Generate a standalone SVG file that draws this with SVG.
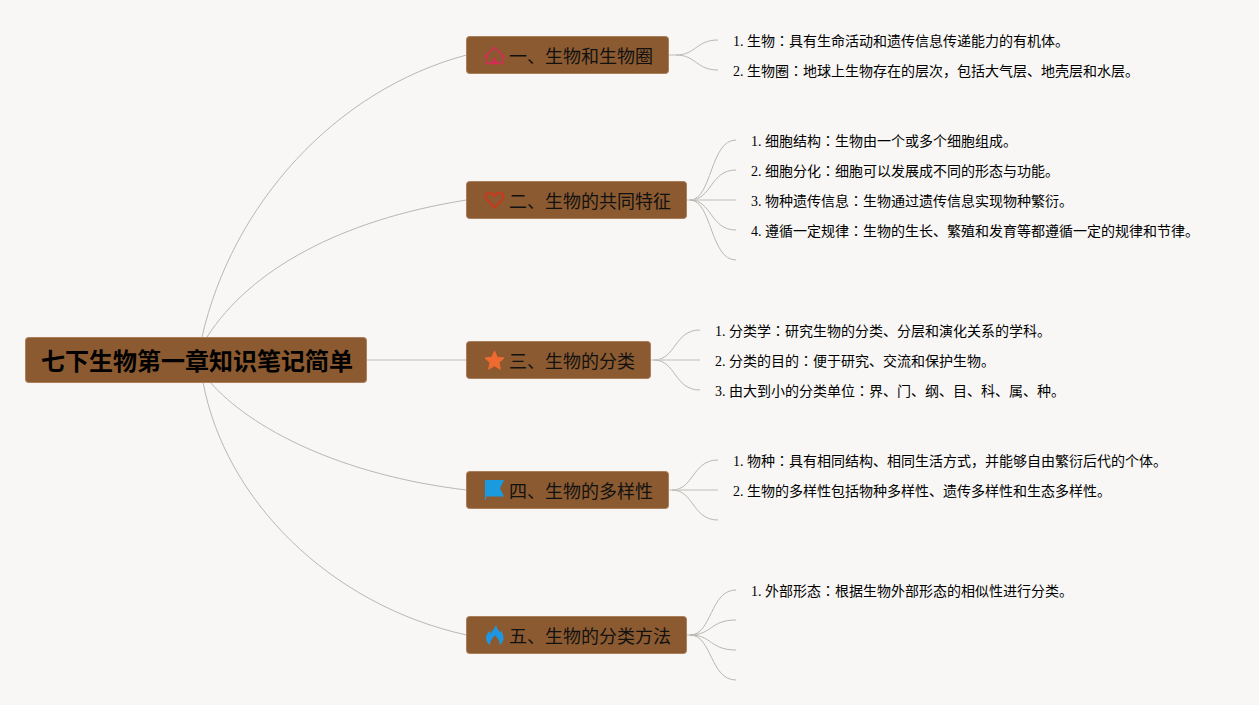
<svg xmlns="http://www.w3.org/2000/svg" width="1259" height="705" viewBox="0 0 1259 705">
<style>
.box{fill:#8b5a30;stroke:#a9805a;stroke-width:1}
.root{font:bold 24px "Liberation Sans","Noto Sans CJK SC",sans-serif;fill:#000}
.title{font:18px "Liberation Sans","Noto Sans CJK SC",sans-serif;fill:#111}
.item{font:14px "Liberation Serif","Noto Sans CJK SC",serif;fill:#000}
.c{font-family:"Noto Sans CJK TC",sans-serif}
.l{fill:none;stroke:#b8b7b3;stroke-width:1}
.s{stroke:#d2d1cd;stroke-width:1.5}
</style>
<rect width="1259" height="705" fill="#f8f7f5"/>
<g id="connectors">
<path class="l" d="M202 337C232 205 335 90 466.500 55"/>
<path class="l" d="M207 337C250 270 340 220 466.500 200"/>
<path class="l s" d="M367 360H466.500"/>
<path class="l" d="M210 382C250 428 340 475 466.500 490"/>
<path class="l" d="M203 382C225 500 330 605 466.500 635"/>
<path class="l s" d="M668.500 55H676"/>
<path class="l" d="M676 55C696 55 696 40 718 40"/>
<path class="l" d="M676 55C696 55 696 70 718 70"/>
<path class="l" d="M690 200C712 200 710 140 736 140"/>
<path class="l" d="M690 200C712 200 710 170 736 170"/>
<path class="l s" d="M686.500 200H736"/>
<path class="l" d="M690 200C712 200 710 230 736 230"/>
<path class="l" d="M690 200C712 200 710 260 736 260"/>
<path class="l" d="M654 360C676 360 674 330 700 330"/>
<path class="l s" d="M650.500 360H700"/>
<path class="l" d="M654 360C676 360 674 390 700 390"/>
<path class="l" d="M672 490C694 490 692 460 718 460"/>
<path class="l s" d="M668.500 490H718"/>
<path class="l" d="M672 490C694 490 692 520 718 520"/>
<path class="l s" d="M686.500 635H694"/>
<path class="l" d="M690 635C712 635 710 590 736 590"/>
<path class="l" d="M690 635C712 635 710 620 736 620"/>
<path class="l" d="M690 635C712 635 710 650 736 650"/>
<path class="l" d="M690 635C712 635 710 680 736 680"/>
</g>
<g id="root">
<rect class="box" x="25.500" y="337.500" width="341" height="45" rx="3"/>
<text class="root" x="41" y="370">七下生物第一章知识笔记简单</text>
</g>
<g id="n1">
<rect class="box" x="466.500" y="36.500" width="202" height="37" rx="3"/>
<path d="M494.500 47.500L486.500 55V63.500H502.500V55Z M484.500 57L494.500 47.500L504.500 57" fill="none" stroke="#d62a58" stroke-width="1.600"/>
<path d="M494.500 56.500L491 63.500H498Z" fill="#d62a58"/>
<text class="title" x="509" y="62.500">一、生物和生物圈</text>
</g>
<g id="n2">
<rect class="box" x="466.500" y="181.500" width="220" height="37" rx="3"/>
<path d="M494.500 207.500L487 200C484 196.500 486 193 489.500 193C492 193 493.500 194.500 494.500 196C495.500 194.500 497 193 499.500 193C503 193 505 196.500 502 200Z" fill="none" stroke="#c63a1e" stroke-width="2"/>
<text class="title" x="509" y="207.500">二、生物的共同特征</text>
</g>
<g id="n3">
<rect class="box" x="466.500" y="341.500" width="184" height="37" rx="3"/>
<path d="M494.500 351L497.200 357.200L504 358L499 362.500L500.400 369.300L494.500 365.800L488.600 369.300L490 362.500L485 358L491.800 357.200Z" fill="#ef6a30" stroke="#ef6a30" stroke-linejoin="round"/>
<text class="title" x="509" y="367.500">三、生物的分类</text>
</g>
<g id="n4">
<rect class="box" x="466.500" y="471.500" width="202" height="37" rx="3"/>
<path d="M485 480H504L500 488.500L504 496.500H486V500H485Z" fill="#1a9be0"/>
<text class="title" x="509" y="497.500">四、生物的多样性</text>
</g>
<g id="n5">
<rect class="box" x="466.500" y="616.500" width="220" height="37" rx="3"/>
<path d="M496 624.500C496.500 628 498.500 630 500 632.500L501 630.500C502.800 633 503.500 635.500 503.500 638C503.500 641 502 643.500 499.500 645C500.500 641.500 498 638.500 495 635.500C492.500 638 489.500 641.500 490 645C487.500 643.500 486 641 486 638C486 635 488 632.500 489.500 631L490.500 633.500C492 630.500 495.500 628 496 624.500Z" fill="#2196e0"/>
<text class="title" x="509" y="642.500">五、生物的分类方法</text>
</g>
<g id="items">
<text class="item" x="733" y="46">1. 生物<tspan class="c">：</tspan>具有生命活动和遗传信息传递能力的有机体。</text>
<text class="item" x="733" y="76">2. 生物圈<tspan class="c">：</tspan>地球上生物存在的层次，包括大气层、地壳层和水层。</text>
<text class="item" x="751" y="146">1. 细胞结构<tspan class="c">：</tspan>生物由一个或多个细胞组成。</text>
<text class="item" x="751" y="176">2. 细胞分化<tspan class="c">：</tspan>细胞可以发展成不同的形态与功能。</text>
<text class="item" x="751" y="206">3. 物种遗传信息<tspan class="c">：</tspan>生物通过遗传信息实现物种繁衍。</text>
<text class="item" x="751" y="236">4. 遵循一定规律<tspan class="c">：</tspan>生物的生长、繁殖和发育等都遵循一定的规律和节律。</text>
<text class="item" x="715" y="336">1. 分类学<tspan class="c">：</tspan>研究生物的分类、分层和演化关系的学科。</text>
<text class="item" x="715" y="366">2. 分类的目的<tspan class="c">：</tspan>便于研究、交流和保护生物。</text>
<text class="item" x="715" y="396">3. 由大到小的分类单位<tspan class="c">：</tspan>界、门、纲、目、科、属、种。</text>
<text class="item" x="733" y="466">1. 物种<tspan class="c">：</tspan>具有相同结构、相同生活方式，并能够自由繁衍后代的个体。</text>
<text class="item" x="733" y="496">2. 生物的多样性包括物种多样性、遗传多样性和生态多样性。</text>
<text class="item" x="751" y="596">1. 外部形态<tspan class="c">：</tspan>根据生物外部形态的相似性进行分类。</text>
</g>
</svg>
